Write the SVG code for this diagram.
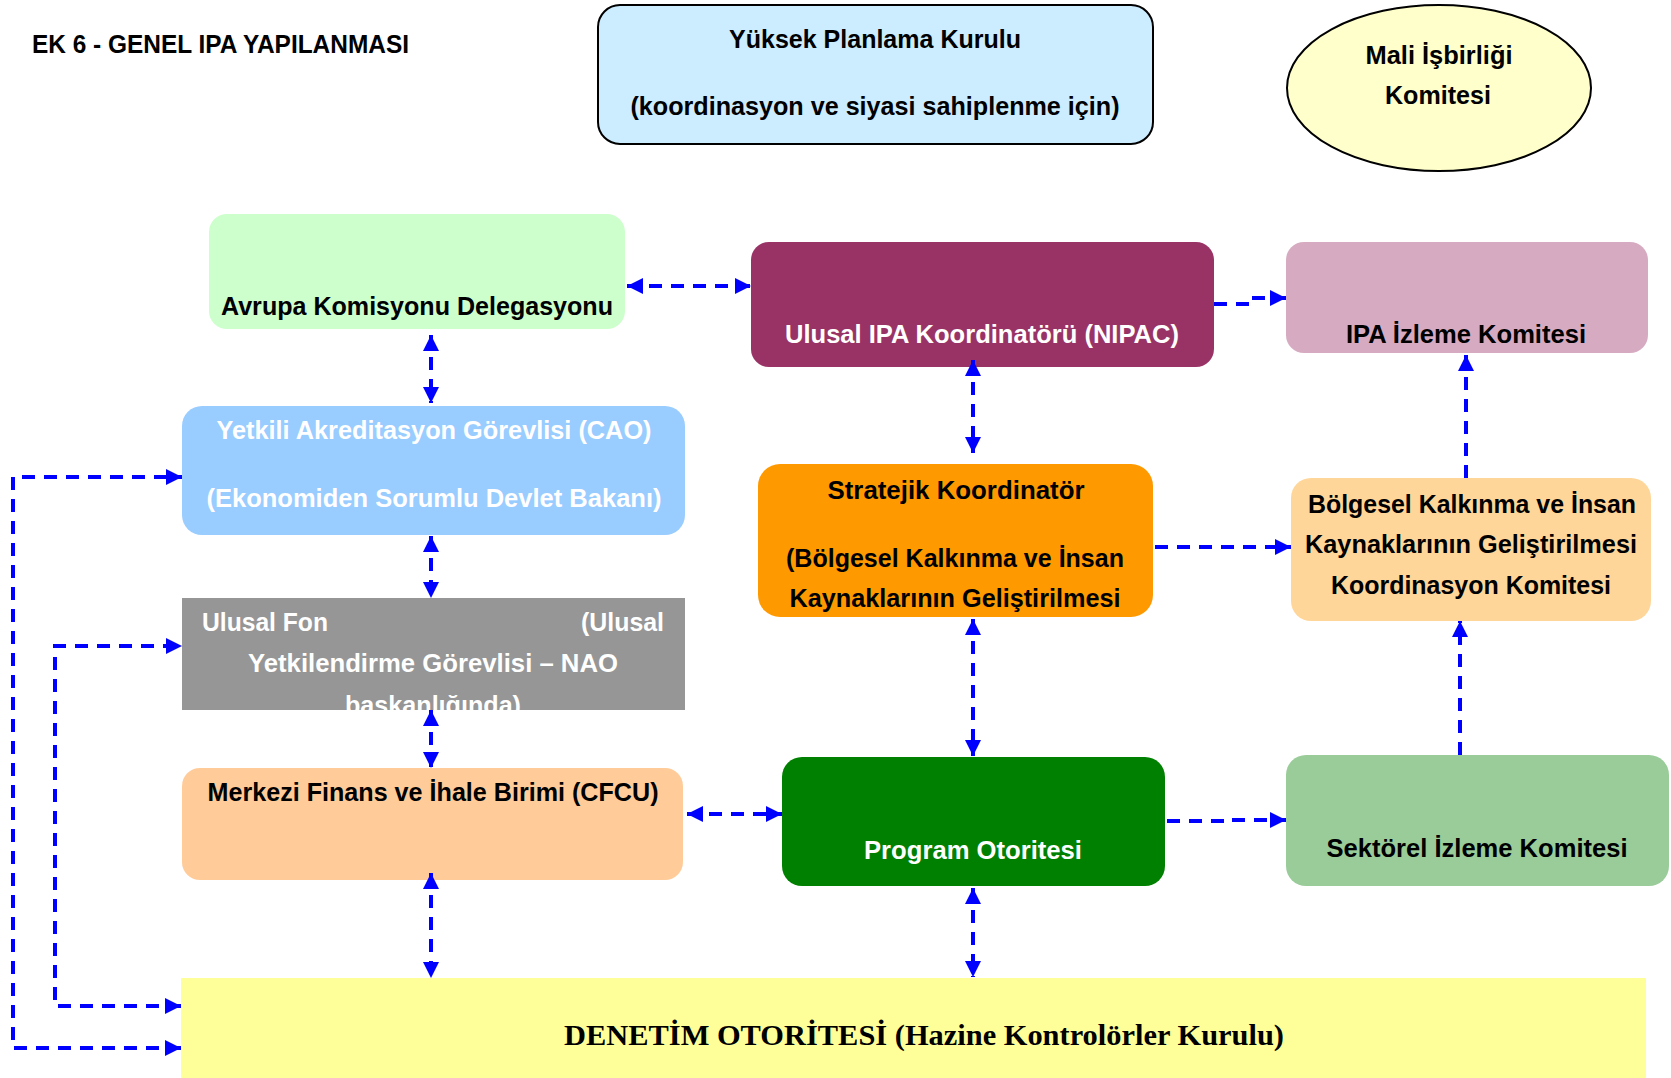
<svg xmlns="http://www.w3.org/2000/svg" width="1671" height="1078" viewBox="0 0 1671 1078">
<style>
.t{font-family:"Liberation Sans",Arial,sans-serif;font-weight:bold;font-size:25px;fill:#000;text-anchor:middle}
.w{fill:#fff}
.c{fill:none;stroke:#0000FF;stroke-width:4;stroke-dasharray:13 9}
</style>
<defs>
<marker id="ah" viewBox="0 0 10 10" refX="10" refY="5" markerWidth="16" markerHeight="16" markerUnits="userSpaceOnUse" orient="auto-start-reverse">
<path d="M0,0 L10,5 L0,10 z" fill="#0000FF"/>
</marker>
<clipPath id="fonclip"><rect x="182" y="598" width="503" height="112"/></clipPath>
</defs>
<rect width="1671" height="1078" fill="#fff"/>
<g id="title"><text class="t" x="32" y="53" style="text-anchor:start;font-size:26px" textLength="377" lengthAdjust="spacingAndGlyphs">EK 6 - GENEL IPA YAPILANMASI</text></g>
<g id="ypk">
<rect x="598" y="5" width="555" height="139" rx="22" fill="#CCECFF" stroke="#000" stroke-width="2"/>
<text class="t" x="875" y="48" textLength="292" lengthAdjust="spacingAndGlyphs">Yüksek Planlama Kurulu</text>
<text class="t" x="875" y="115" textLength="489" lengthAdjust="spacingAndGlyphs">(koordinasyon ve siyasi sahiplenme için)</text>
</g>
<g id="mik">
<ellipse cx="1439" cy="88" rx="152" ry="83" fill="#FFFFCC" stroke="#000" stroke-width="2"/>
<text class="t" x="1439" y="64" textLength="147" lengthAdjust="spacingAndGlyphs">Mali İşbirliği</text>
<text class="t" x="1438" y="104" textLength="106" lengthAdjust="spacingAndGlyphs">Komitesi</text>
</g>
<g id="akd">
<rect x="209" y="214" width="416" height="115" rx="18" fill="#CCFFCC"/>
<text class="t" x="417" y="315" textLength="392" lengthAdjust="spacingAndGlyphs">Avrupa Komisyonu Delegasyonu</text>
</g>
<g id="nipac">
<rect x="751" y="242" width="463" height="125" rx="18" fill="#993366"/>
<text class="t w" x="982" y="343" textLength="394" lengthAdjust="spacingAndGlyphs">Ulusal IPA Koordinatörü (NIPAC)</text>
</g>
<g id="ipaizleme">
<rect x="1286" y="242" width="362" height="111" rx="18" fill="#D6ABC1"/>
<text class="t" x="1466" y="343" textLength="240" lengthAdjust="spacingAndGlyphs">IPA İzleme Komitesi</text>
</g>
<g id="cao">
<rect x="182" y="406" width="503" height="129" rx="20" fill="#99CCFF"/>
<text class="t w" x="434" y="439" textLength="435" lengthAdjust="spacingAndGlyphs">Yetkili Akreditasyon Görevlisi (CAO)</text>
<text class="t w" x="434" y="507" textLength="455" lengthAdjust="spacingAndGlyphs">(Ekonomiden Sorumlu Devlet Bakanı)</text>
</g>
<g id="ulusalfon">
<rect x="182" y="598" width="503" height="112" fill="#969696"/>
<g clip-path="url(#fonclip)">
<text class="t w" x="202" y="631" style="text-anchor:start" textLength="126" lengthAdjust="spacingAndGlyphs">Ulusal Fon</text>
<text class="t w" x="664" y="631" style="text-anchor:end" textLength="83" lengthAdjust="spacingAndGlyphs">(Ulusal</text>
<text class="t w" x="433" y="672" textLength="370" lengthAdjust="spacingAndGlyphs">Yetkilendirme Görevlisi – NAO</text>
<text class="t w" x="433" y="714" textLength="176" lengthAdjust="spacingAndGlyphs">başkanlığında)</text>
</g>
</g>
<g id="cfcu">
<rect x="182" y="768" width="501" height="112" rx="18" fill="#FFCC99"/>
<text class="t" x="433" y="801" textLength="451" lengthAdjust="spacingAndGlyphs">Merkezi Finans ve İhale Birimi (CFCU)</text>
</g>
<g id="stratejik">
<rect x="758" y="464" width="395" height="153" rx="22" fill="#FF9900"/>
<text class="t" x="956" y="499" textLength="257" lengthAdjust="spacingAndGlyphs">Stratejik Koordinatör</text>
<text class="t" x="955" y="567" textLength="338" lengthAdjust="spacingAndGlyphs">(Bölgesel Kalkınma ve İnsan</text>
<text class="t" x="955" y="607" textLength="331" lengthAdjust="spacingAndGlyphs">Kaynaklarının Geliştirilmesi</text>
</g>
<g id="bkik">
<rect x="1291" y="478" width="360" height="143" rx="20" fill="#FFD699"/>
<text class="t" x="1472" y="513" textLength="328" lengthAdjust="spacingAndGlyphs">Bölgesel Kalkınma ve İnsan</text>
<text class="t" x="1471" y="553" textLength="332" lengthAdjust="spacingAndGlyphs">Kaynaklarının Geliştirilmesi</text>
<text class="t" x="1471" y="594" textLength="280" lengthAdjust="spacingAndGlyphs">Koordinasyon Komitesi</text>
</g>
<g id="program">
<rect x="782" y="757" width="383" height="129" rx="20" fill="#008000"/>
<text class="t w" x="973" y="859" textLength="218" lengthAdjust="spacingAndGlyphs">Program Otoritesi</text>
</g>
<g id="sektorel">
<rect x="1286" y="755" width="383" height="131" rx="20" fill="#99CC99"/>
<text class="t" x="1477" y="857" textLength="301" lengthAdjust="spacingAndGlyphs">Sektörel İzleme Komitesi</text>
</g>
<g id="denetim">
<rect x="181" y="978" width="1465" height="100" fill="#FFFF99"/>
<text x="924" y="1045" style="font-family:'Liberation Serif','Times New Roman',serif;font-size:30px;font-weight:bold;text-anchor:middle" textLength="720" lengthAdjust="spacingAndGlyphs">DENETİM OTORİTESİ (Hazine Kontrolörler Kurulu)</text>
</g>
<g id="connectors">
<path class="c" d="M627,286 H751" marker-start="url(#ah)" marker-end="url(#ah)"/>
<path class="c" d="M1214,304 H1247 V298 H1286" marker-end="url(#ah)"/>
<path class="c" d="M431,335 V403" marker-start="url(#ah)" marker-end="url(#ah)"/>
<path class="c" d="M431,536 V598" marker-start="url(#ah)" marker-end="url(#ah)"/>
<path class="c" d="M431,710 V768" marker-start="url(#ah)" marker-end="url(#ah)"/>
<path class="c" d="M431,873 V978" marker-start="url(#ah)" marker-end="url(#ah)"/>
<path class="c" d="M687,814 H782" marker-start="url(#ah)" marker-end="url(#ah)"/>
<path class="c" d="M973,360 V453" marker-start="url(#ah)" marker-end="url(#ah)"/>
<path class="c" d="M973,619 V756" marker-start="url(#ah)" marker-end="url(#ah)"/>
<path class="c" d="M973,888 V977" marker-start="url(#ah)" marker-end="url(#ah)"/>
<path class="c" d="M1155,547 H1291" marker-end="url(#ah)"/>
<path class="c" d="M1167,821 H1226 V820 H1286" marker-end="url(#ah)"/>
<path class="c" d="M1460,755 V621" marker-end="url(#ah)"/>
<path class="c" d="M1466,478 V355" marker-end="url(#ah)"/>
<path class="c" d="M181,1048 H13 V477 H182" marker-start="url(#ah)" marker-end="url(#ah)"/>
<path class="c" d="M181,1006 H55 V646 H182" marker-start="url(#ah)" marker-end="url(#ah)"/>
</g>
</svg>
